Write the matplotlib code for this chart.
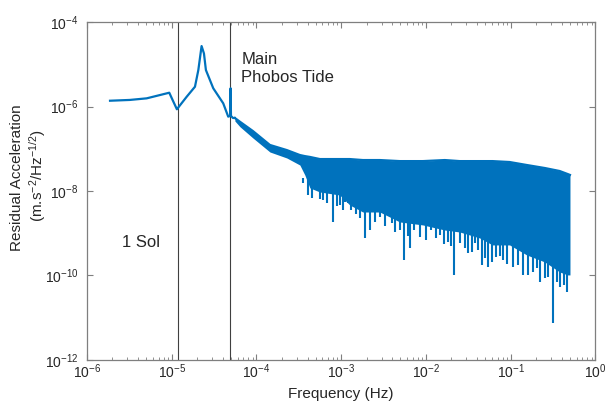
import matplotlib
matplotlib.use('Agg')
import matplotlib.pyplot as plt
from matplotlib.ticker import FixedLocator, NullLocator, NullFormatter

plt.rcParams['font.family'] = ['Liberation Sans', 'DejaVu Sans']
plt.rcParams['mathtext.fontset'] = 'custom'
plt.rcParams['mathtext.rm'] = 'Liberation Sans'
plt.rcParams['mathtext.it'] = 'Liberation Sans:italic'

blue = '#0072BD'
grey = '#7f7f7f'

# --- smooth low-frequency part of the spectrum
low_f = [1.87e-6, 3.2e-6, 5.06e-6, 9.35e-6, 1.15e-5, 1.5e-5, 1.88e-5, 2.06e-5,
         2.25e-5, 2.4e-5, 2.53e-5, 3.09e-5, 4.05e-5, 4.64e-5, 4.9e-5, 4.95e-5,
         5.0e-5, 5.27e-5, 5.56e-5]
low_v = [1.37e-6, 1.43e-6, 1.56e-6, 2.12e-6, 8.6e-7, 1.7e-6, 2.94e-6, 7.3e-6,
         2.7e-5, 1.8e-5, 7.3e-6, 2.7e-6, 1.19e-6, 5.75e-7, 6.0e-7, 2.7e-6,
         6.0e-7, 5.35e-7, 5.35e-7]

# --- noisy part: envelope of the spectrum above ~5e-5 Hz
band_f = [5.56e-5, 6.37e-5, 9.07e-5, 1.44e-4, 2.28e-4, 3.25e-4, 3.72e-4, 4.27e-4,
          5.6e-4, 9.6e-4, 1.26e-3, 1.8e-3, 2.85e-3, 4.9e-3, 9.2e-3, 1.67e-2,
          2.5e-2, 4.3e-2, 6.1e-2, 9.7e-2, 0.155, 0.252, 0.378, 0.47, 0.5]
band_hi = [5.35e-7, 4.37e-7, 2.63e-7, 1.23e-7, 9.3e-8, 7.1e-8, 6.7e-8, 6.4e-8,
           5.7e-8, 5.7e-8, 5.7e-8, 5.4e-8, 5.4e-8, 5.1e-8, 5.1e-8, 5.4e-8,
           5.1e-8, 5.1e-8, 5.1e-8, 4.85e-8, 4.12e-8, 3.5e-8, 2.97e-8, 2.52e-8, 2.4e-8]
band_lo = [4.54e-7, 3.33e-7, 1.8e-7, 8.38e-8, 6.04e-8, 4.12e-8, 2.39e-8, 1.18e-8,
           9.46e-9, 8.04e-9, 4.67e-9, 3.18e-9, 3.18e-9, 1.85e-9, 1.57e-9, 1.19e-9,
           1.07e-9, 7.73e-10, 5.28e-10, 5.28e-10, 3.05e-10, 2.09e-10, 1.21e-10,
           1.03e-10, 1.03e-10]

# --- downward spikes below the noise floor
dip_f = [3.52e-4, 4.07e-4, 4.50e-4, 5.12e-4, 5.60e-4, 6.12e-4, 6.76e-4, 8.02e-4,
         8.87e-4, 9.6e-4, 1.04e-3, 1.10e-3, 1.20e-3, 1.32e-3, 1.49e-3, 1.66e-3,
         1.90e-3, 2.17e-3, 2.49e-3, 2.85e-3, 3.27e-3, 3.92e-3, 4.29e-3, 4.91e-3,
         5.52e-3, 6.10e-3, 6.44e-3, 7.18e-3, 8.45e-3, 9.95e-3, 1.16e-2, 1.31e-2,
         1.46e-2, 1.62e-2, 1.82e-2, 1.96e-2, 2.13e-2, 2.51e-2, 2.87e-2, 3.13e-2,
         3.47e-2, 3.76e-2, 4.08e-2, 4.52e-2, 4.93e-2, 5.41e-2, 5.97e-2, 6.78e-2,
         7.41e-2, 8.11e-2, 8.97e-2, 0.106, 0.121, 0.140, 0.160, 0.182, 0.203,
         0.220, 0.252, 0.275, 0.315, 0.348, 0.378, 0.422, 0.461]
dip_v = [1.55e-8, 8.04e-9, 6.83e-9, 1.06e-8, 6.47e-9, 6.12e-9, 5.2e-9, 1.88e-9,
         4.42e-9, 4.67e-9, 3.55e-9, 5.58e-9, 5.2e-9, 3.55e-9, 2.86e-9, 2.3e-9,
         7.59e-10, 1.19e-9, 1.85e-9, 2.47e-9, 1.49e-9, 1.75e-9, 1.07e-9, 1.19e-9,
         2.33e-10, 8.6e-10, 4.4e-10, 1.19e-9, 8.28e-10, 6.92e-10, 1.19e-9, 7.73e-10,
         9.1e-10, 5.57e-10, 6.31e-10, 4.99e-10, 1.03e-10, 5.87e-10, 4.48e-10, 3.41e-10,
         3.6e-10, 5.87e-10, 4.02e-10, 1.77e-10, 2.6e-10, 1.62e-10, 2.09e-10, 2.79e-10,
         2.9e-10, 2.33e-10, 1.87e-10, 1.62e-10, 1.77e-10, 1.03e-10, 1.03e-10, 1.21e-10,
         1.51e-10, 7.13e-11, 8.73e-11, 9.37e-11, 7.64e-12, 7.02e-11, 5.43e-11,
         5.96e-11, 4.14e-11]
dip_top = 2e-8

# tidal lines
sol_f = 1.17e-5
phobos_f = 4.88e-5

x_ticks = [1e-6, 1e-5, 1e-4, 1e-3, 1e-2, 1e-1, 1e0]
y_ticks = [1e-12, 1e-10, 1e-8, 1e-6, 1e-4]

fig = plt.figure(figsize=(6.10, 4.04), dpi=100)
ax = fig.add_axes([0.1426, 0.109, 0.8336, 0.8365])

ax.axvline(sol_f, color='#404040', lw=0.8, zorder=1)
ax.axvline(phobos_f, color='#404040', lw=0.8, zorder=1)

ax.plot(low_f, low_v, color=blue, lw=1.6, zorder=3)
ax.fill_between(band_f, band_lo, band_hi, color=blue, lw=0, zorder=2)
ax.plot(band_f, band_hi, color=blue, lw=1.6, zorder=3)
ax.vlines(dip_f, dip_v, dip_top, color=blue, lw=1.5, zorder=2)

ax.set_xscale('log')
ax.set_yscale('log')
ax.set_xlim(1e-6, 1e0)
ax.set_ylim(1e-12, 1e-4)

minor_x = [m * t for t in x_ticks[:-1] for m in range(2, 10)]
ax.xaxis.set_major_locator(FixedLocator(x_ticks))
ax.xaxis.set_minor_locator(FixedLocator(minor_x))
ax.xaxis.set_minor_formatter(NullFormatter())
ax.yaxis.set_major_locator(FixedLocator(y_ticks))
ax.yaxis.set_minor_locator(NullLocator())

ax.tick_params(which='both', direction='in', top=True, right=True,
               color=grey, labelsize=10, labelcolor='#262626')
ax.tick_params(which='major', length=4, width=0.8)
ax.tick_params(axis='x', which='major', pad=2)
ax.tick_params(axis='y', which='major', pad=6)
ax.tick_params(which='minor', length=2.5, width=0.6)
for s in ax.spines.values():
    s.set_color(grey)
    s.set_linewidth(0.9)

ax.set_xlabel('Frequency (Hz)', fontsize=11, color='#262626', labelpad=4)
fig.text(0.028, 0.56, 'Residual Acceleration', rotation=90, fontsize=11,
         color='#262626', ha='center', va='center')
fig.text(0.062, 0.565, '(m.s$^{-2}$/Hz$^{-1/2}$)', rotation=90, fontsize=11,
         color='#262626', ha='center', va='center')

ax.text(2.6e-6, 5.9e-10, '1 Sol', fontsize=12, color='#262626', va='center')
ax.text(6.6e-5, 8e-6, 'Main\nPhobos Tide', fontsize=12, color='#262626',
        va='center', linespacing=1.25)

fig.savefig('out.png', dpi=100)
